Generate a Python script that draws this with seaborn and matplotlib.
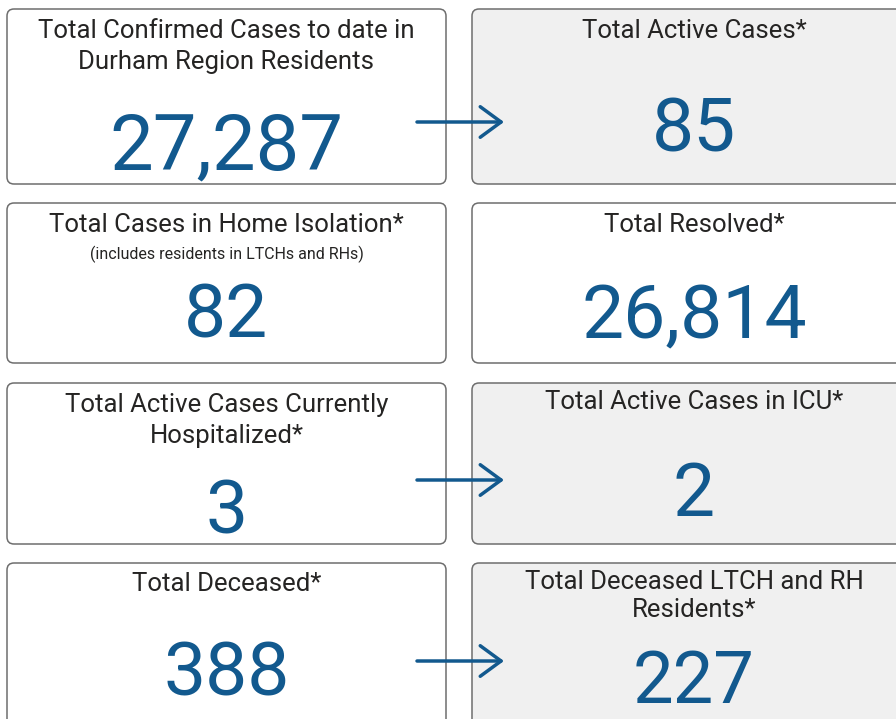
import seaborn as sns
import matplotlib.pyplot as plt
from matplotlib.patches import FancyBboxPatch

# --- Data (KPI cards, left column then right column, row by row) ---
card_titles = [
    ["Total Confirmed Cases to date in", "Durham Region Residents"],
    ["Total Active Cases*"],
    ["Total Cases in Home Isolation*"],
    ["Total Resolved*"],
    ["Total Active Cases Currently", "Hospitalized*"],
    ["Total Active Cases in ICU*"],
    ["Total Deceased*"],
    ["Total Deceased LTCH and RH", "Residents*"],
]
card_values = [27287, 85, 82, 26814, 3, 2, 388, 227]
card_notes = ["", "", "(includes residents in LTCHs and RHs)", "", "", "", "", ""]
card_shaded = [False, True, False, False, False, True, False, True]

# --- Layout (pixels) ---
col_x = [(7, 446), (472, 930)]
row_y = [(9, 184), (203, 363), (383, 544), (563, 740)]
title_y = [[31, 62], [31], [225], [225], [405, 436], [402], [584], [582, 610]]
value_y = [140, 124, 309, 310, 505, 488, 668, 676]
value_size = [56, 54, 54, 54, 54, 54, 54, 52]
arrow_y = [122, 480, 661]

blue = "#12598E"
dark = "#252423"

sns.set_theme(style="white")
plt.rcParams["font.family"] = ["Roboto", "DejaVu Sans"]

fig = plt.figure(figsize=(8.96, 7.19), dpi=100)
ax = fig.add_axes([0, 0, 1, 1])
ax.set_xlim(0, 896)
ax.set_ylim(719, 0)
ax.axis("off")

for i, (lines, value) in enumerate(zip(card_titles, card_values)):
    row, col = divmod(i, 2)
    x0, x1 = col_x[col]
    y0, y1 = row_y[row]
    face = "#F0F0F0" if card_shaded[i] else "white"
    ax.add_patch(FancyBboxPatch((x0, y0), x1 - x0, y1 - y0,
                                boxstyle="round,pad=0,rounding_size=7",
                                facecolor=face, edgecolor="#6E6E6E", lw=1.1))
    cx = (x0 + x1) / 2 if col == 0 else 694
    for line, ty in zip(lines, title_y[i]):
        ax.text(cx, ty, line, ha="center", va="center", fontsize=18.5, color=dark)
    if card_notes[i]:
        ax.text(cx, 254, card_notes[i], ha="center", va="center", fontsize=11.5, color=dark)
    ax.text(cx, value_y[i], f"{value:,}", ha="center", va="center_baseline",
            fontsize=value_size[i], color=blue)

# --- Arrows linking cards ---
for ay in arrow_y:
    ax.annotate("", xy=(504, ay), xytext=(417, ay),
                arrowprops=dict(arrowstyle="->,head_length=1.5,head_width=1.1",
                                mutation_scale=10, color=blue, lw=2.5,
                                shrinkA=0, shrinkB=0))

plt.savefig("out.png", dpi=100)
plt.close()
